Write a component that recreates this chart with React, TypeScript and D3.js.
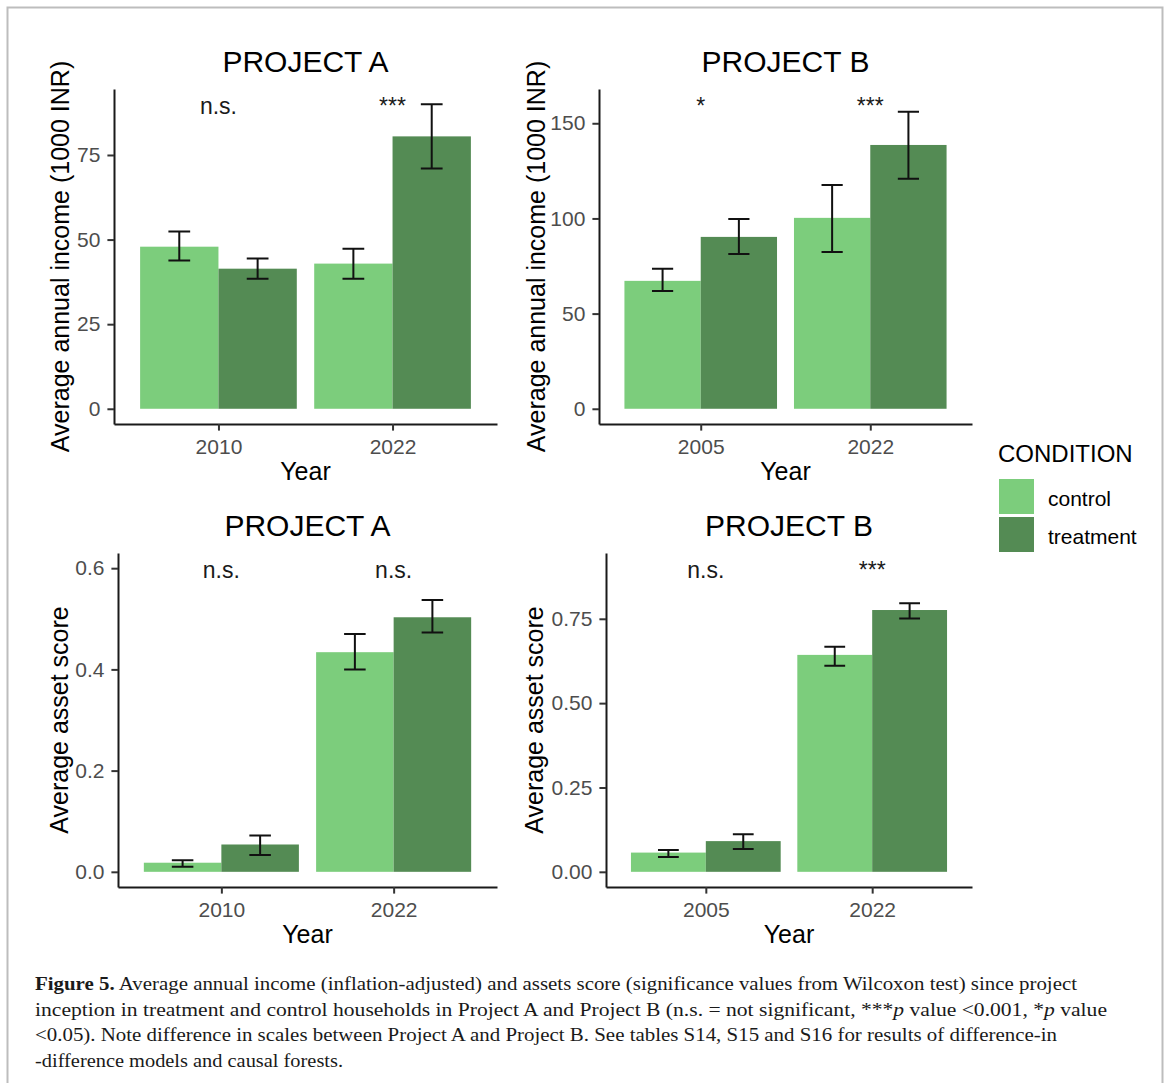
import React, { useEffect, useRef } from "react";
import * as d3 from "d3";

const conditions = ["control", "treatment"];
const conditionColors = ["#7CCD7C", "#548B54"];

const yearsA = ["2010", "2022"];
const yearsB = ["2005", "2022"];

// order: year1 control, year1 treatment, year2 control, year2 treatment
const incomeA = [47.9, 41.4, 42.9, 80.5];
const incomeALow = [43.8, 38.4, 38.4, 71.0];
const incomeAHigh = [52.4, 44.4, 47.3, 90.0];

const incomeB = [67.2, 90.3, 100.3, 138.6];
const incomeBLow = [61.9, 81.3, 82.4, 120.8];
const incomeBHigh = [73.5, 99.7, 117.6, 156.0];

const assetA = [0.018, 0.054, 0.434, 0.503];
const assetALow = [0.01, 0.033, 0.4, 0.473];
const assetAHigh = [0.023, 0.072, 0.47, 0.537];

const assetB = [0.057, 0.091, 0.643, 0.776];
const assetBLow = [0.044, 0.068, 0.611, 0.751];
const assetBHigh = [0.065, 0.111, 0.667, 0.796];

const sigIncomeA = ["n.s.", "***"];
const sigIncomeB = ["*", "***"];
const sigAssetA = ["n.s.", "n.s."];
const sigAssetB = ["n.s.", "***"];
// y value where the significance labels sit in each panel
const sigLevel = [90, 160, 0.6, 0.9];

const ticksIncomeA = [0, 25, 50, 75];
const ticksIncomeB = [0, 50, 100, 150];
const ticksAssetA = [0, 0.2, 0.4, 0.6];
const ticksAssetB = [0, 0.25, 0.5, 0.75];

const captionLines = [
  [
    ["Figure 5.", "b"],
    [" Average annual income (inflation-adjusted) and assets score (significance values from Wilcoxon test) since project", ""],
  ],
  [
    ["inception in treatment and control households in Project A and Project B (n.s. = not significant, ***", ""],
    ["p", "i"],
    [" value <0.001, *", ""],
    ["p", "i"],
    [" value", ""],
  ],
  [["<0.05). Note difference in scales between Project A and Project B. See tables S14, S15 and S16 for results of difference-in", ""]],
  [["-difference models and causal forests.", ""]],
];
const captionWidths = [1042, 1072, 1022, 308];

const panels = [
  { title: "PROJECT A", years: yearsA, mean: incomeA, low: incomeALow, high: incomeAHigh, sig: sigIncomeA, sigY: sigLevel[0], ticks: ticksIncomeA, fmt: "d", yTitle: "Average annual income (1000 INR)", box: [114, 497, 89, 424], titleX: 69 },
  { title: "PROJECT B", years: yearsB, mean: incomeB, low: incomeBLow, high: incomeBHigh, sig: sigIncomeB, sigY: sigLevel[1], ticks: ticksIncomeB, fmt: "d", yTitle: "Average annual income (1000 INR)", box: [599, 972, 89, 424], titleX: 545 },
  { title: "PROJECT A", years: yearsA, mean: assetA, low: assetALow, high: assetAHigh, sig: sigAssetA, sigY: sigLevel[2], ticks: ticksAssetA, fmt: ".1f", yTitle: "Average asset score", box: [118, 497, 553, 887], titleX: 68 },
  { title: "PROJECT B", years: yearsB, mean: assetB, low: assetBLow, high: assetBHigh, sig: sigAssetB, sigY: sigLevel[3], ticks: ticksAssetB, fmt: ".2f", yTitle: "Average asset score", box: [606, 972, 553, 887], titleX: 543 },
];

const font = "'Liberation Sans', Arial, sans-serif";

export default function App() {
  const ref = useRef<SVGSVGElement>(null);

  useEffect(() => {
    const svg = d3.select(ref.current);
    svg.selectAll("*").remove();

    // frame around the figure
    svg
      .append("path")
      .attr("d", "M7.5,1083V7.5H1162.5V1083")
      .attr("fill", "none")
      .attr("stroke", "#bdbdbd")
      .attr("stroke-width", 2);

    panels.forEach((p) => {
      const [x0, x1, y0, y1] = p.box;
      const x = d3.scalePoint().domain(p.years).range([x0, x1]).padding(0.6);
      const step = x.step();
      const top = d3.max([...p.high, p.sigY]) as number;
      const y = d3.scaleLinear().domain([-0.05 * top, 1.05 * top]).range([y1, y0]);
      const g = svg.append("g");

      const rows = p.mean.map((v, i) => ({
        year: p.years[Math.floor(i / 2)],
        cond: i % 2,
        v,
        lo: p.low[i],
        hi: p.high[i],
      }));
      const bw = step * 0.45;
      const cx = (d) => (x(d.year) as number) - bw / 2 + d.cond * bw;

      g.selectAll("rect")
        .data(rows)
        .join("rect")
        .attr("x", (d) => cx(d) - bw / 2)
        .attr("width", bw)
        .attr("y", (d) => y(d.v))
        .attr("height", (d) => y(0) - y(d.v))
        .attr("fill", (d) => conditionColors[d.cond]);

      // error bars
      const cap = (step * 0.125) / 2;
      g.selectAll("path.err")
        .data(rows)
        .join("path")
        .attr("class", "err")
        .attr(
          "d",
          (d) =>
            `M${cx(d) - cap},${y(d.hi)}H${cx(d) + cap}M${cx(d)},${y(d.hi)}V${y(d.lo)}M${cx(d) - cap},${y(d.lo)}H${cx(d) + cap}`
        )
        .attr("fill", "none")
        .attr("stroke", "#111")
        .attr("stroke-width", 2);

      // axes
      const yAxis = g
        .append("g")
        .attr("transform", `translate(${x0},0)`)
        .call(
          d3
            .axisLeft(y)
            .tickValues(p.ticks)
            .tickFormat(d3.format(p.fmt))
            .tickSize(6.6)
            .tickPadding(7)
            .tickSizeOuter(0)
        );
      const xAxis = g
        .append("g")
        .attr("transform", `translate(0,${y1})`)
        .call(d3.axisBottom(x).tickSize(6.6).tickPadding(8).tickSizeOuter(0));

      [yAxis, xAxis].forEach((a) => {
        a.attr("font-family", font).attr("font-size", 21);
        a.select(".domain").attr("stroke", "#1a1a1a").attr("stroke-width", 2);
        a.selectAll(".tick line").attr("stroke", "#333").attr("stroke-width", 2);
        a.selectAll(".tick text").attr("fill", "#4d4d4d");
      });

      // titles
      g.append("text")
        .attr("x", (x0 + x1) / 2)
        .attr("y", y0 - 17)
        .attr("text-anchor", "middle")
        .attr("font-family", font)
        .attr("font-size", 30)
        .attr("fill", "#000")
        .text(p.title);

      g.append("text")
        .attr("x", (x0 + x1) / 2)
        .attr("y", y1 + 56)
        .attr("text-anchor", "middle")
        .attr("font-family", font)
        .attr("font-size", 25)
        .attr("fill", "#000")
        .text("Year");

      g.append("text")
        .attr("transform", `translate(${p.titleX},${(y0 + y1) / 2}) rotate(-90)`)
        .attr("text-anchor", "middle")
        .attr("font-family", font)
        .attr("font-size", 25)
        .attr("fill", "#000")
        .text(p.yTitle);

      // significance labels
      g.selectAll("text.sig")
        .data(p.sig)
        .join("text")
        .attr("class", "sig")
        .attr("x", (d, i) => x(p.years[i]) as number)
        .attr("y", y(p.sigY) + 10)
        .attr("text-anchor", "middle")
        .attr("font-family", font)
        .attr("font-size", 23)
        .attr("fill", "#1a1a1a")
        .text((d) => d);
    });

    // legend
    const lg = svg.append("g");
    lg.append("text")
      .attr("x", 998)
      .attr("y", 462)
      .attr("font-family", font)
      .attr("font-size", 24)
      .attr("fill", "#000")
      .text("CONDITION");
    conditions.forEach((c, i) => {
      lg.append("rect")
        .attr("x", 999)
        .attr("y", 479 + i * 38)
        .attr("width", 35)
        .attr("height", 35)
        .attr("fill", conditionColors[i]);
      lg.append("text")
        .attr("x", 1048)
        .attr("y", 506 + i * 38)
        .attr("font-family", font)
        .attr("font-size", 21)
        .attr("fill", "#000")
        .text(c);
    });

    // caption
    const cap = svg
      .append("g")
      .attr("font-family", "'Liberation Serif', 'Times New Roman', serif")
      .attr("font-size", 19)
      .attr("fill", "#1a1a1a");
    captionLines.forEach((line, i) => {
      const t = cap
        .append("text")
        .attr("x", 35)
        .attr("y", 990 + i * 25.5)
        .attr("textLength", captionWidths[i])
        .attr("lengthAdjust", "spacingAndGlyphs");
      line.forEach(([s, st]) => {
        t.append("tspan")
          .attr("font-weight", st === "b" ? "bold" : null)
          .attr("font-style", st === "i" ? "italic" : null)
          .text(s);
      });
    });
  }, []);

  return (
    <div style={{ position: "absolute", left: 0, top: 0 }}>
      <svg ref={ref} width={1167} height={1083} style={{ display: "block", background: "#fff" }} />
    </div>
  );
}
